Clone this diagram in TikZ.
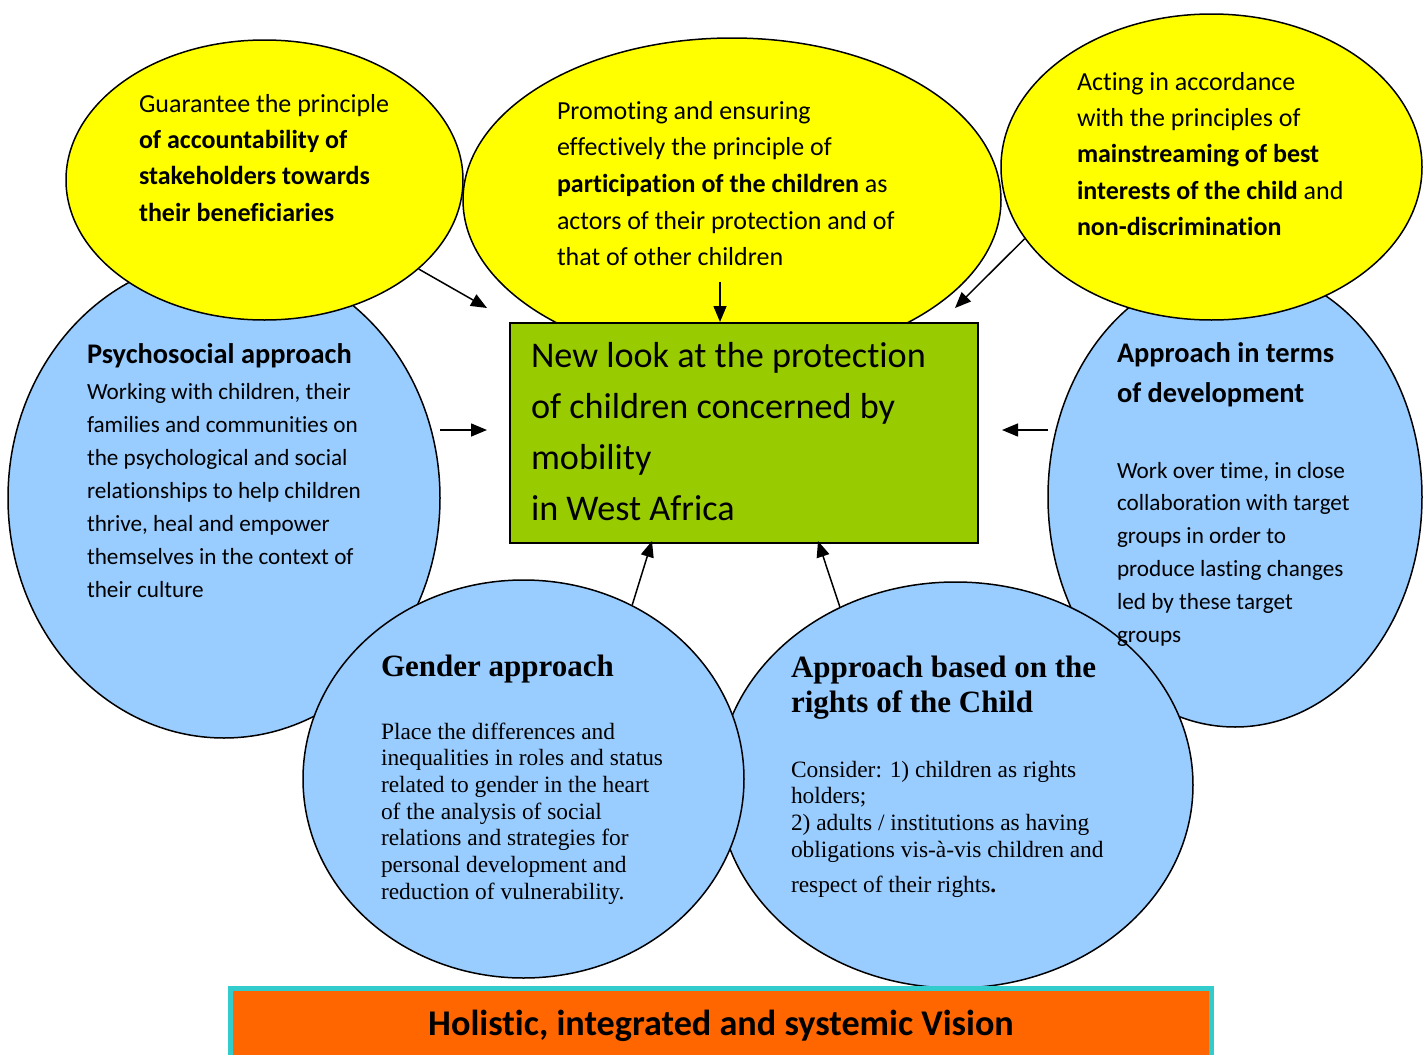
\documentclass[tikz,border=0pt]{standalone}
\usepackage{fontspec}
\setmainfont{Carlito}[Ligatures=NoCommon]
\newfontfamily\timesf{Liberation Serif}
\usetikzlibrary{shapes.geometric,arrows.meta}
\definecolor{ylw}{HTML}{FFFF00}
\definecolor{lblue}{HTML}{99CCFF}
\definecolor{lgreen}{HTML}{99CC00}
\definecolor{orng}{HTML}{FF6600}
\definecolor{turq}{HTML}{33CCCC}
\begin{document}
\begin{tikzpicture}[x=0.5pt,y=-0.5pt,
  ell/.style={ellipse, draw=black, line width=0.75pt, inner sep=0pt},
  yel/.style={ell, fill=ylw},
  blu/.style={ell, fill=lblue},
  txt/.style={anchor=base west, inner sep=0pt, outer sep=0pt},
  arr/.style={-{Triangle[length=8pt,width=6.5pt]}, line width=0.75pt}]
\useasboundingbox (0,0) rectangle (1426,1055);
% blue circles
\node[blu, minimum width=216pt, minimum height=240pt] (bl) at (224,498) {};
\node[blu, minimum width=187pt, minimum height=230pt] (br) at (1235,497) {};
\node[blu, minimum width=237.5pt, minimum height=203pt] (rc) at (955.5,785) {};
\node[blu, minimum width=220.5pt, minimum height=199pt] (gd) at (523.5,779) {};
% yellow ellipses
\node[yel, minimum width=198.5pt, minimum height=140pt] (yl) at (264.5,180) {};
\node[yel, minimum width=269pt, minimum height=162pt] (ym) at (732,200) {};
\node[yel, minimum width=210.5pt, minimum height=153pt] (yr) at (1211.5,167) {};
% central box
\node[draw=black, line width=1pt, fill=lgreen, minimum width=234pt, minimum height=110pt, inner sep=0pt] (box) at (744,433) {};
% bottom bar
\node[draw=turq, line width=2.5pt, fill=orng, minimum width=490.5pt, minimum height=38.25pt, inner sep=0pt] (bar) at (721,1026.75) {};
% texts
\node[txt] (tyl) at (139,112) {\parbox[t]{220pt}{\fontsize{13}{18.2}\selectfont Guarantee the principle\\ \textbf{of accountability of}\\ \textbf{stakeholders towards}\\ \textbf{their beneficiaries}}};
\node[txt] (tym) at (557,119.3) {\parbox[t]{220pt}{\fontsize{13}{18.3}\selectfont Promoting and ensuring\\ effectively the principle of\\ \textbf{participation of the children} as\\ actors of their protection and of\\ that of other children}};
\node[txt] (tyr) at (1077,90) {\parbox[t]{220pt}{\fontsize{13}{18.2}\selectfont Acting in accordance\\ with the principles of\\ \textbf{mainstreaming of best}\\ \textbf{interests of the child} and\\ \textbf{non-discrimination}}};
\node[txt] (tbox) at (531,367) {\parbox[t]{230pt}{\fontsize{18.1}{25.5}\selectfont New look at the protection\\ of children concerned by\\ mobility\\ in West Africa}};
\node[txt] (tpsh) at (87,363) {\fontsize{14.2}{17}\selectfont\bfseries Psychosocial approach};
\node[txt] (tpsb) at (87,399) {\parbox[t]{200pt}{\fontsize{11.6}{16.5}\selectfont Working with children, their\\ families and communities on\\ the psychological and social\\ relationships to help children\\ thrive, heal and empower\\ themselves in the context of\\ their culture}};
\node[txt] (tdvh) at (1117,362) {\parbox[t]{200pt}{\fontsize{14.2}{20}\selectfont\bfseries Approach in terms\\ of development}};
\node[txt] (tdvb) at (1117,478) {\parbox[t]{200pt}{\fontsize{11.6}{16.4}\selectfont Work over time, in close\\ collaboration with target\\ groups in order to\\ produce lasting changes\\ led by these target\\ groups}};
\node[txt] (tgdh) at (381,676) {\timesf\fontsize{15.5}{17.5}\selectfont\bfseries Gender approach};
\node[txt] (tgdb) at (381,739) {\parbox[t]{200pt}{\timesf\fontsize{11.7}{13.35}\selectfont Place the differences and\\ inequalities in roles and status\\ related to gender in the heart\\ of the analysis of social\\ relations and strategies for\\ personal development and\\ reduction of vulnerability.}};
\node[txt] (trch) at (791,677) {\parbox[t]{220pt}{\timesf\fontsize{15.5}{17.5}\selectfont\bfseries Approach based on the\\ rights of the Child}};
\node[txt] (trcb) at (791,777) {\parbox[t]{220pt}{\timesf\fontsize{11.7}{13.4}\selectfont Consider: 1) children as rights\\ holders;\\ 2) adults / institutions as having\\ obligations vis-à-vis children and\\[4pt] respect of their rights\textbf{.}}};
\node[anchor=base, inner sep=0pt] (tbar) at (721,1035) {\fontsize{18.1}{20}\selectfont\bfseries Holistic, integrated and systemic Vision};
% connectors
\coordinate (a1) at (487,308);
\draw[arr] (yl.330.5) -- (a1);
\coordinate (m1) at (720,282);
\draw[arr] (m1) -- (m1 |- box.north);
\coordinate (a3) at (955,308);
\draw[arr] (yr.201.4) -- (a3);
\coordinate (l1) at (440,430);
\coordinate (l2) at (487,430);
\draw[arr] (l1) -- (l2);
\coordinate (r1) at (1048,430);
\coordinate (r2) at (1002,430);
\draw[arr] (r1) -- (r2);
\coordinate (g2) at (652,541);
\draw[arr] (gd.58.7) -- (g2);
\coordinate (c2) at (818,541);
\draw[arr] (rc.123.4) -- (c2);
\end{tikzpicture}
\end{document}
